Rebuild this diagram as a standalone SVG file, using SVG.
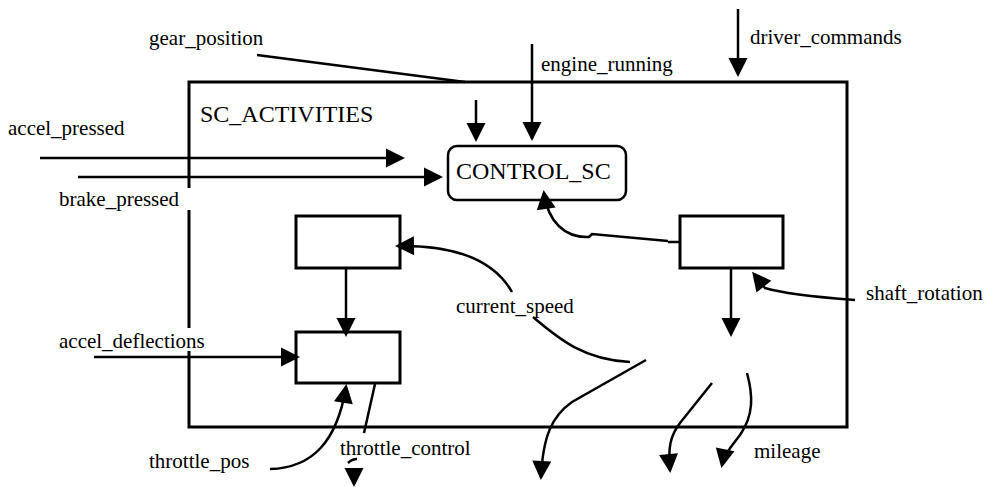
<svg xmlns="http://www.w3.org/2000/svg" width="1001" height="487" viewBox="0 0 1001 487">
<style>
text{font-family:'Liberation Serif','Times New Roman','DejaVu Serif',serif;fill:#000}
.lbl{font-size:21px}
.big{font-size:24px}
.box{fill:none;stroke:#000;stroke-width:3}
.c{fill:none;stroke:#000;stroke-width:2.5}
.a{marker-end:url(#ah)}
</style>
<defs>
<marker id="ah" markerUnits="userSpaceOnUse" markerWidth="20" markerHeight="20" refX="16" refY="9.5" orient="auto" overflow="visible">
<path d="M0,0 L19,9.5 L0,19 z" fill="#000"/>
</marker>
</defs>
<rect width="1001" height="487" fill="#fff"/>
<g id="SC_ACTIVITIES">
<path class="box" d="M189,188 L189,82 L847,82 L847,427 L189,427 L189,351 M189,328 L189,210"/>
<text class="big" x="200" y="122">SC_ACTIVITIES</text>
</g>
<g id="CONTROL_SC">
<rect x="448" y="146" width="178" height="54" rx="9" ry="9" fill="none" stroke="#000" stroke-width="2.5"/>
<text class="big" x="456" y="179">CONTROL_SC</text>
</g>
<g id="boxA"><rect class="box" x="296" y="216" width="104" height="52"/></g>
<g id="boxB"><rect class="box" x="296" y="332" width="104" height="51"/></g>
<g id="boxC"><rect class="box" x="680" y="216" width="103" height="52"/></g>
<g id="connectors">
<path class="c a" d="M40,158 L402,158"/>
<path class="c a" d="M78,177 L440,177"/>
<path class="c" d="M257,55 L465,82"/>
<path class="c a" d="M476,100 L476,139"/>
<path class="c a" d="M532,44 L532,138"/>
<path class="c a" d="M738,9 L738,74"/>
<path class="c a" d="M346,268 L346,334"/>
<path class="c a" d="M94,357 L297,357"/>
<path class="c a" d="M270,469 C312,468 337,442 346,387"/>
<path class="c" d="M375,384 L364,433"/>
<path class="c" d="M348,463 Q352,459 357,459"/>
<path class="c a" d="M354,468 L354,484"/>
<path class="c" d="M680,242 L668,242"/>
<path class="c a" d="M668,241 L592,234 L589,237 C565,238 548,222 544,193"/>
<path class="c a" d="M512,292 C495,262 460,245 398,246"/>
<path class="c" d="M533,317 C560,340 585,360 630,362"/>
<path class="c a" d="M646,360 L572,402 C552,416 543,436 541,477"/>
<path class="c a" d="M731,268 L731,334"/>
<path class="c a" d="M855,300 C815,297 778,292 765,288 L754,274"/>
<path class="c a" d="M712,383 L680,423 C670,436 668,448 670,470"/>
<path class="c a" d="M747,373 C753,395 754,415 740,435 C730,448 724,455 722,465"/>
</g>
<g id="labels">
<text class="lbl" x="149" y="45">gear_position</text>
<text class="lbl" x="541" y="71">engine_running</text>
<text class="lbl" x="750" y="44">driver_commands</text>
<text class="lbl" x="8" y="135">accel_pressed</text>
<text class="lbl" x="59" y="206">brake_pressed</text>
<text class="lbl" x="456" y="313">current_speed</text>
<text class="lbl" x="866" y="300">shaft_rotation</text>
<text class="lbl" x="59" y="348">accel_deflections</text>
<text class="lbl" x="149" y="468">throttle_pos</text>
<text class="lbl" x="340" y="455">throttle_control</text>
<text class="lbl" x="754" y="458">mileage</text>
</g>
</svg>
